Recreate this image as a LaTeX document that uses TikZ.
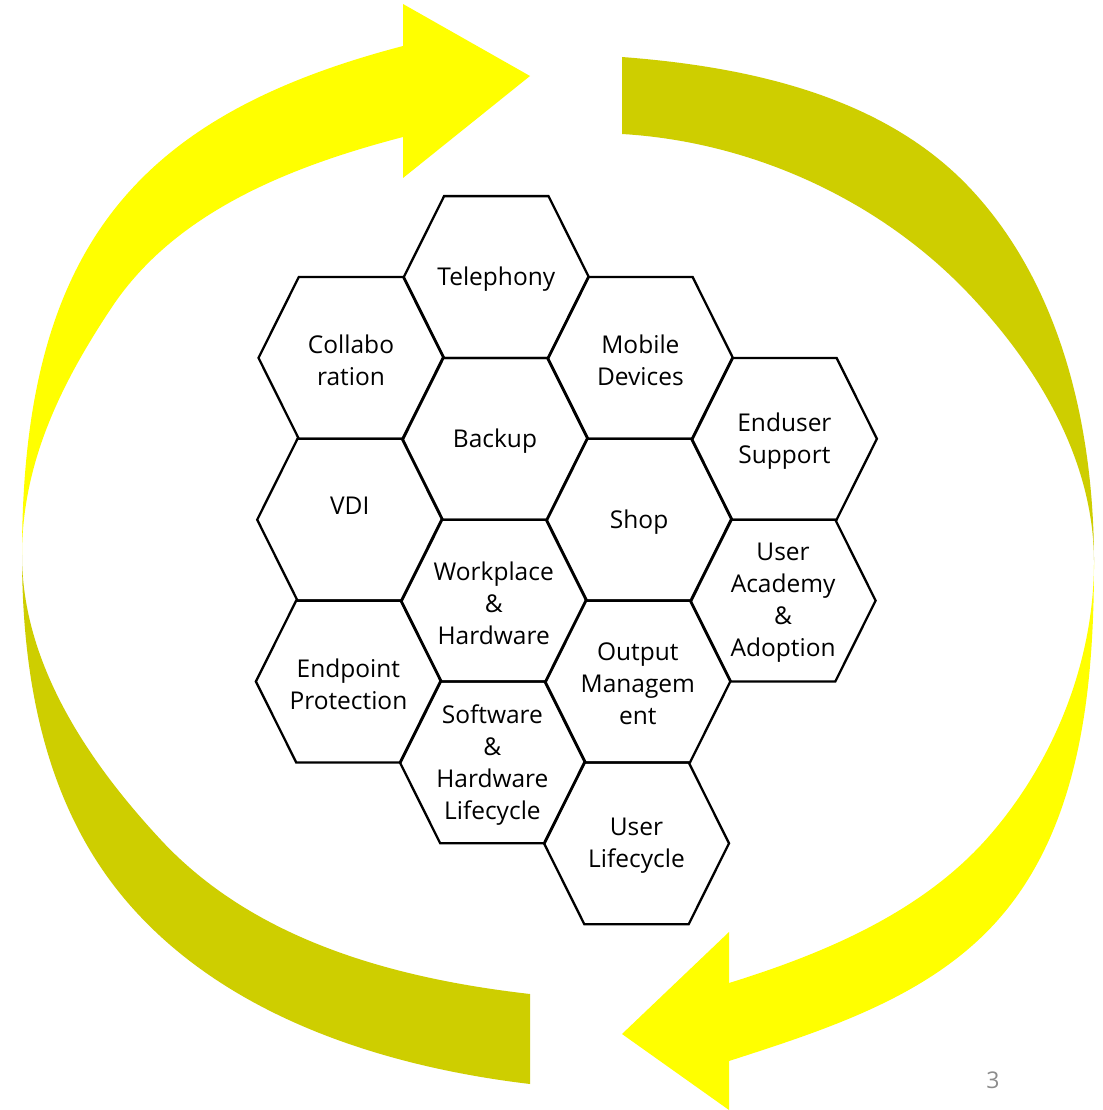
\documentclass[tikz,border=0pt]{standalone}
\usepackage{fontspec}
\setmainfont{Open Sans}
\definecolor{ybright}{RGB}{255,255,0}
\definecolor{yolive}{RGB}{206,206,0}
\definecolor{pnum}{RGB}{140,140,140}
\begin{document}
\begin{tikzpicture}[x=1pt,y=-1pt,
  hexline/.style={draw=black, line width=2.3pt, line join=miter},
  hextext/.style={font=\fontsize{24.5}{32}\selectfont, align=center, text=black, inner sep=0pt, yshift=-2.5pt},
  pagenum/.style={font=\fontsize{23}{26}\selectfont, text=pnum, inner sep=0pt}]
\newcommand\hexcell[4]{%
  \draw[hexline, shift={(#2,#3)}] (-92.5,0) -- (-52.2,-80.9) -- (52.2,-80.9) -- (92.5,0) -- (52.2,80.9) -- (-52.2,80.9) -- cycle;
  \node[hextext] (#1) at (#2,#3) {#4};}
\fill[white] (0,0) rectangle (1102,1110);
\useasboundingbox (0,0) rectangle (1102,1110);
% left arrow, bright upper half
\fill[ybright] (403,46) .. controls (137.8,115.3) and (22,247) .. (22,555)
  .. controls (22,463) and (61,383.5) .. (112,307)
  .. controls (175.8,211.3) and (291.7,166.1) .. (403,137) -- cycle;
\fill[ybright] (403,4) -- (530,76) -- (403,178) -- cycle;
% left arrow, olive lower half
\fill[yolive] (22,555) .. controls (22,678) and (44.5,802.3) .. (123,897)
  .. controls (220,1014) and (379,1066) .. (530,1084)
  -- (530,994) .. controls (394,978.4) and (254.3,940.3) .. (161,840)
  .. controls (87.5,761) and (22,663) .. (22,555) -- cycle;
% right arrow, olive upper half
\fill[yolive] (622,57) .. controls (746.6,66.5) and (880.1,95.1) .. (967,185)
  .. controls (1060.8,282.1) and (1094,427) .. (1094,562)
  .. controls (1094,460) and (1037.6,365.6) .. (967,292)
  .. controls (877.7,198.9) and (750.7,141.6) .. (622,134) -- cycle;
% right arrow, bright lower half
\fill[ybright] (1094,562) .. controls (1094,688) and (1081,827.1) .. (997,921)
  .. controls (929,997) and (826,1029.6) .. (729,1061)
  -- (729,983) .. controls (825.5,953.1) and (924,911.4) .. (990,835)
  .. controls (1054.7,760.2) and (1094,661) .. (1094,562) -- cycle;
\fill[ybright] (729,932) -- (622,1034) -- (729,1110) -- cycle;
% hexagons
\hexcell{collab}{351.0}{357.9}{Collabo\\ration}
\hexcell{vdi}{349.7}{519.7}{VDI\\\mbox{}}
\hexcell{endpoint}{348.4}{681.5}{Endpoint\\Protection}
\hexcell{tel}{496.3}{277}{Telephony}
\hexcell{backup}{495.0}{438.8}{Backup}
\hexcell{workplace}{493.7}{600.6}{Workplace\\\&\\Hardware}
\hexcell{software}{492.4}{762.4}{Software\\\&\\Hardware\\Lifecycle}
\hexcell{mobile}{640.4}{357.9}{Mobile\\Devices}
\hexcell{shop}{639.1}{519.7}{Shop}
\hexcell{output}{637.8}{681.5}{Output\\Managem\\ent}
\hexcell{userlife}{636.5}{843.3}{User\\Lifecycle}
\hexcell{enduser}{784.4}{438.8}{Enduser\\Support}
\hexcell{academy}{783.1}{600.6}{User\\Academy\\\&\\Adoption}
\node[pagenum] (pnum) at (993,1080) {3};
\end{tikzpicture}
\end{document}
